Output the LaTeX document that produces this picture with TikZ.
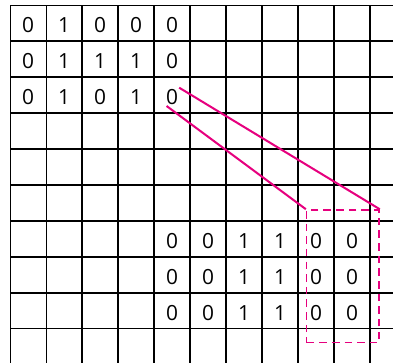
\documentclass[tikz,border=0pt]{standalone}
\usepackage{fontspec}
\setmainfont{Open Sans}
\usepackage{xcolor}
\usetikzlibrary{positioning}
\definecolor{Magenta}{HTML}{E6007E}

\tikzset{
  cell/.style={font=\fontsize{16.5}{20}\selectfont, inner sep=0pt},
  link/.style={Magenta, line width=1.6pt},
  window/.style={draw=Magenta, line width=1.2pt, dash pattern=on 6pt off 4pt,
    minimum width=2.01cm, minimum height=3.686cm, inner sep=0pt}
}

\begin{document}
\begin{tikzpicture}[y=-1cm]
  \useasboundingbox (-0.278,-0.139) rectangle (10.639,9.917);

  % Grid
  \begin{scope}
    \clip (-0.278,-0.139) rectangle (10.639,9.917);
    \draw[line width=0.8pt] (0,0) grid (11,10);
  \end{scope}

  % Input
  \foreach \r/\row in {0/{0,1,0,0,0}, 1/{0,1,1,1,0}, 2/{0,1,0,1,0}} {
    \foreach \v [count=\c from 0] in \row
      \node[cell] (in-\r-\c) at (\c+0.5,\r+0.55) {\v};
  }

  % Output
  \foreach \r in {6,7,8} {
    \foreach \v [count=\c from 4] in {0,0,1,1,0,0}
      \node[cell] (out-\r-\c) at (\c+0.5,\r+0.55) {\v};
  }

  % Window
  \node[window] (win) at (9.245,7.537) {};
  \coordinate (top) at (4.70,2.297);
  \coordinate (bot) at (4.35,2.806);
  \draw[link] (top) -- (win.north east);
  \draw[link] (bot) -- (win.north west);
\end{tikzpicture}
\end{document}
